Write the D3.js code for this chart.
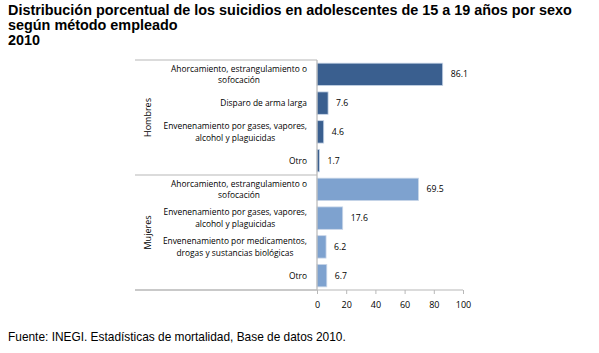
<!DOCTYPE html>
<html>
<head>
<meta charset="utf-8">
<script src="https://cdn.jsdelivr.net/npm/d3@7"></script>
<style>
  body { margin: 0; background: #fff; }
  svg { display: block; }
</style>
</head>
<body>
<svg width="599" height="353"></svg>
<script>
var titleLines = ["Distribución porcentual de los suicidios en adolescentes de 15 a 19 años por sexo",
                  "según método empleado",
                  "2010"];
var groups = ["Hombres", "Mujeres"];
var hombresCats = [["Ahorcamiento, estrangulamiento o", "sofocación"],
                   ["Disparo de arma larga"],
                   ["Envenenamiento por gases, vapores,", "alcohol y plaguicidas"],
                   ["Otro"]];
var hombresValues = [86.1, 7.6, 4.6, 1.7];
var mujeresCats = [["Ahorcamiento, estrangulamiento o", "sofocación"],
                   ["Envenenamiento por gases, vapores,", "alcohol y plaguicidas"],
                   ["Envenenamiento por medicamentos,", "drogas y sustancias biológicas"],
                   ["Otro"]];
var mujeresValues = [69.5, 17.6, 6.2, 6.7];
var xTicks = [0, 20, 40, 60, 80, 100];
var source = "Fuente: INEGI. Estadísticas de mortalidad, Base de datos 2010.";

var colors = {Hombres: "#3a5f8f", Mujeres: "#7ea2cf"};

var rows = [];
hombresCats.forEach(function(c, i) { rows.push({group: "Hombres", label: c, value: hombresValues[i], key: "H" + i}); });
mujeresCats.forEach(function(c, i) { rows.push({group: "Mujeres", label: c, value: mujeresValues[i], key: "M" + i}); });

var svg = d3.select('svg');
var plotLeft = 317, plotRight = 463, plotTop = 60, plotBottom = 290, frameLeft = 135;

var x = d3.scaleLinear().domain([0, 100]).range([plotLeft, plotRight]);
var y = d3.scaleBand().domain(rows.map(function(d) { return d.key; }))
          .range([plotTop, plotBottom]).paddingInner(0.22).paddingOuter(0.11);

// title
svg.append('text')
   .attr('font-family', 'Liberation Sans, Arial, sans-serif')
   .attr('font-weight', 'bold')
   .attr('font-size', '14.4px')
   .attr('fill', '#000')
   .selectAll('tspan').data(titleLines).enter().append('tspan')
   .attr('x', 8)
   .attr('y', function(d, i) { return 15 + i * 15; })
   .text(function(d) { return d; });

// group separators
var groupBounds = [plotTop, plotTop + (plotBottom - plotTop) / 2, plotBottom];
svg.selectAll('.sep').data(groupBounds).enter().append('line')
   .attr('x1', frameLeft).attr('x2', plotLeft)
   .attr('y1', function(d) { return d; }).attr('y2', function(d) { return d; })
   .attr('stroke', '#b8b8b8').attr('stroke-width', 1.2);

// group labels
svg.selectAll('.glabel').data(groups).enter().append('text')
   .attr('transform', function(d, i) {
     var cy = (groupBounds[i] + groupBounds[i + 1]) / 2;
     return 'translate(151,' + cy + ') rotate(-90)';
   })
   .attr('text-anchor', 'middle')
   .attr('font-family', 'Open Sans, sans-serif')
   .attr('font-size', '9px')
   .attr('fill', '#000')
   .text(function(d) { return d; });

// bars
svg.selectAll('.bar').data(rows).enter().append('rect')
   .attr('x', x(0))
   .attr('y', function(d) { return y(d.key); })
   .attr('width', function(d) { return x(d.value) - x(0); })
   .attr('height', y.bandwidth())
   .attr('fill', function(d) { return colors[d.group]; })
   .attr('stroke', '#c9d6e8')
   .attr('stroke-width', 0.8);

// category labels
var cat = svg.selectAll('.cat').data(rows).enter().append('text')
   .attr('font-family', 'Open Sans, sans-serif')
   .attr('font-size', '8.4px')
   .attr('fill', '#000');
cat.each(function(d) {
  var t = d3.select(this);
  var cy = y(d.key) + y.bandwidth() / 2;
  var n = d.label.length;
  d.label.forEach(function(line, i) {
    t.append('tspan')
     .attr('x', 307)
     .attr('y', cy + 3 + (i - (n - 1) / 2) * 11.5)
     .attr('text-anchor', i === 0 ? 'end' : 'middle')
     .text(line);
  });
});
// second line centred under the first
cat.each(function(d) {
  if (d.label.length < 2) return;
  var spans = d3.select(this).selectAll('tspan').nodes();
  var w = spans[0].getComputedTextLength();
  spans[1].setAttribute('x', 307 - w / 2);
});

// value labels
svg.selectAll('.val').data(rows).enter().append('text')
   .attr('x', function(d) { return x(d.value) + 8; })
   .attr('y', function(d) { return y(d.key) + y.bandwidth() / 2 + 3; })
   .attr('font-family', 'Open Sans, sans-serif')
   .attr('font-size', '8.7px')
   .attr('fill', '#000')
   .text(function(d) { return d.value.toFixed(1); });

// vertical axis line
svg.append('line')
   .attr('x1', plotLeft).attr('x2', plotLeft).attr('y1', plotTop).attr('y2', plotBottom)
   .attr('stroke', '#b8b8b8').attr('stroke-width', 1.2);

// x axis
var xAxis = svg.append('g')
   .attr('transform', 'translate(0,' + plotBottom + ')')
   .call(d3.axisBottom(x).tickValues(xTicks).tickSize(4).tickPadding(8).tickFormat(d3.format('d')));
xAxis.select('.domain').attr('stroke', '#b8b8b8').attr('stroke-width', 1.2)
     .attr('d', 'M' + frameLeft + ',0H' + plotRight);
xAxis.selectAll('.tick line').attr('stroke', '#b8b8b8');
xAxis.selectAll('.tick text').attr('font-family', 'Open Sans, sans-serif').attr('font-size', '9px').attr('fill', '#000');

// source
svg.append('text')
   .attr('x', 8).attr('y', 341)
   .attr('font-family', 'Liberation Sans, Arial, sans-serif')
   .attr('font-size', '11.9px')
   .attr('fill', '#000')
   .text(source);
</script>
</body>
</html>
